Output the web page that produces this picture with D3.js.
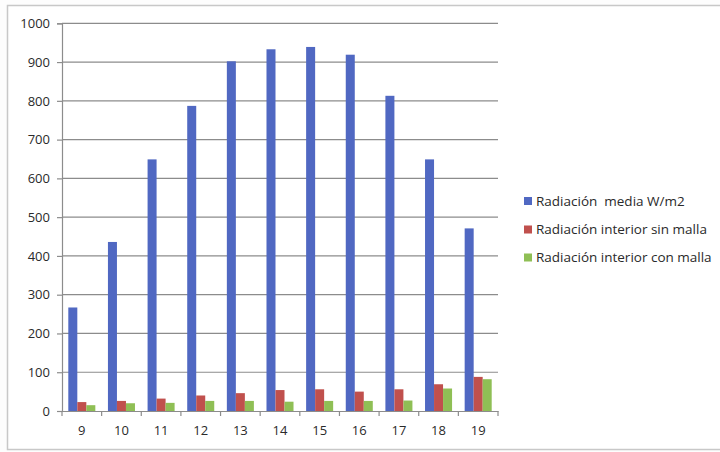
<!DOCTYPE html>
<html>
<head>
<meta charset="utf-8">
<script src="https://cdn.jsdelivr.net/npm/d3@7"></script>
<style>
  html, body { margin: 0; padding: 0; background: #fdfdfd; }
  svg { display: block; }
  text { font-family: "Open Sans", "DejaVu Sans", sans-serif; fill: #2a2a2a; white-space: pre; }
</style>
</head>
<body>
<svg id="chart" width="720" height="452"></svg>
<script>
// Hourly radiation readings
const hours = ["9", "10", "11", "12", "13", "14", "15", "16", "17", "18", "19"];
const seriesNames = ["Radiación  media W/m2", "Radiación interior sin malla", "Radiación interior con malla"];
const mediaValues = [267, 436, 649, 787, 902, 933, 939, 919, 813, 649, 471];
const sinMallaValues = [23, 26, 32, 40, 46, 54, 56, 50, 56, 69, 88];
const conMallaValues = [15, 20, 21, 26, 26, 24, 26, 26, 27, 58, 82];
const yTicks = [0, 100, 200, 300, 400, 500, 600, 700, 800, 900, 1000];
const colors = ["#5068c2", "#c0504d", "#8fbf55"];

const seriesValues = [mediaValues, sinMallaValues, conMallaValues];
const rows = hours.map((h, i) => ({ hour: h, values: seriesValues.map(s => s[i]) }));

const svg = d3.select("#chart");
const plot = { left: 62, right: 498, top: 23.3, bottom: 411 };

// chart frame
svg.append("rect")
  .attr("x", 7.5).attr("y", 5.5)
  .attr("width", 730).attr("height", 444)
  .attr("fill", "#ffffff")
  .attr("stroke", "#c8c8c8").attr("stroke-width", 1.5);

const x = d3.scaleBand().domain(hours).range([plot.left, plot.right]).paddingInner(0).paddingOuter(0);
const x1 = d3.scaleBand().domain(d3.range(seriesNames.length)).range([0, x.bandwidth()]).paddingInner(0).paddingOuter(0.7);
const y = d3.scaleLinear().domain([0, 1000]).range([plot.bottom, plot.top]);

// gridlines
svg.append("g")
  .selectAll("line").data(yTicks.filter(t => t > 0)).join("line")
  .attr("x1", plot.left).attr("x2", plot.right)
  .attr("y1", d => y(d)).attr("y2", d => y(d))
  .attr("stroke", "#8c8c8c").attr("stroke-width", 1.2);

// bars
const groups = svg.append("g").selectAll("g").data(rows).join("g")
  .attr("transform", d => `translate(${x(d.hour)},0)`);
groups.selectAll("rect").data(d => d.values).join("rect")
  .attr("x", (d, i) => x1(i))
  .attr("width", x1.bandwidth())
  .attr("y", d => y(d))
  .attr("height", d => y(0) - y(d))
  .attr("fill", (d, i) => colors[i]);

// y axis
const yAxis = svg.append("g")
  .attr("transform", `translate(${plot.left},0)`)
  .call(d3.axisLeft(y).tickValues(yTicks).tickSize(5).tickPadding(7).tickFormat(d3.format("d")));
yAxis.select(".domain").attr("stroke", "#8c8c8c").attr("stroke-width", 1.2);
yAxis.selectAll(".tick line").attr("stroke", "#8c8c8c").attr("stroke-width", 1.2);
yAxis.selectAll("text").style("font-size", "13px").attr("fill", "#2a2a2a");

// x axis with ticks on category boundaries
const xAxis = svg.append("g")
  .attr("transform", `translate(0,${plot.bottom})`)
  .call(d3.axisBottom(x).tickSize(0).tickPadding(15));
xAxis.select(".domain").attr("stroke", "#8c8c8c").attr("stroke-width", 1.2);
xAxis.selectAll("text").style("font-size", "13px").attr("fill", "#2a2a2a");
xAxis.selectAll(".boundary").data(hours.map(h => x(h) + x.bandwidth()).concat([plot.left]))
  .join("line").attr("class", "boundary")
  .attr("x1", d => d).attr("x2", d => d)
  .attr("y1", 0).attr("y2", 5)
  .attr("stroke", "#8c8c8c").attr("stroke-width", 1.2);

// legend
const legend = svg.append("g").attr("transform", "translate(524,0)");
const legendY = [201, 229.5, 257.5];
seriesNames.forEach((name, i) => {
  legend.append("rect")
    .attr("x", 0).attr("y", legendY[i] - 4)
    .attr("width", 8).attr("height", 8)
    .attr("fill", colors[i]);
  legend.append("text")
    .attr("x", 12).attr("y", legendY[i])
    .attr("dy", "0.35em")
    .attr("xml:space", "preserve")
    .style("font-size", "13.5px")
    .text(name);
});
</script>
</body>
</html>
